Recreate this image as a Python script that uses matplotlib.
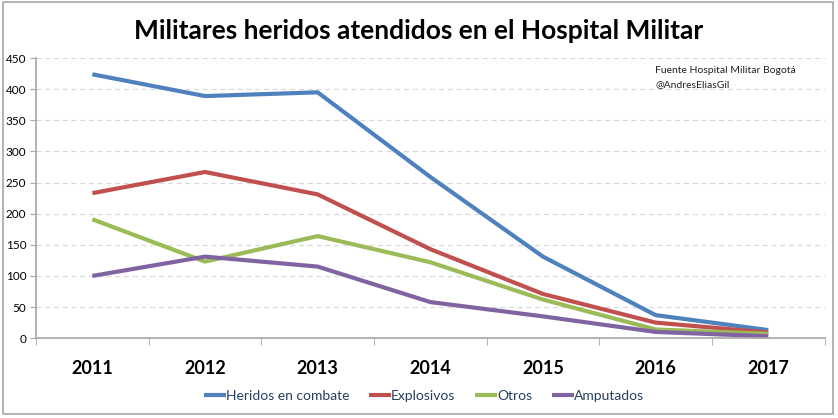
import matplotlib.pyplot as plt
from matplotlib.patches import Rectangle

years = ['2011', '2012', '2013', '2014', '2015', '2016', '2017']
heridos = [424, 389, 395, 259, 131, 37, 13]
explosivos = [233, 267, 231, 143, 71, 25, 9]
otros = [191, 123, 164, 122, 62, 14, 7]
amputados = [100, 131, 115, 58, 35, 10, 3]

series = [
    ('Heridos en combate', heridos, '#4F81BD'),
    ('Explosivos', explosivos, '#C0504D'),
    ('Otros', otros, '#9BBB59'),
    ('Amputados', amputados, '#8064A2'),
]

plt.rcParams['font.family'] = ['Lato', 'DejaVu Sans']

fig = plt.figure(figsize=(8.38, 4.18), dpi=100)
ax = fig.add_axes([0.043, 0.191, 0.941, 0.670])

# frame around the whole chart
fig.patches.append(Rectangle((0.003, 0.01), 0.991, 0.985, transform=fig.transFigure,
                             fill=False, edgecolor='#A6A6A6', linewidth=1.2))

x = list(range(len(years)))
for name, vals, col in series:
    ax.plot(x, vals, color=col, linewidth=3, label=name, solid_capstyle='butt')

ax.set_xlim(-0.5, len(years) - 0.5)
ax.set_ylim(0, 450)
ax.set_yticks(range(0, 451, 50))
ax.yaxis.grid(True, linestyle=(0, (4, 3)), color='#D9D9D9', linewidth=0.9)
ax.set_axisbelow(True)

ax.set_xticks(x)
ax.set_xticklabels(years, fontsize=13, fontweight='bold')
ax.set_xticks([i - 0.5 for i in range(len(years) + 1)], minor=True)
ax.tick_params(axis='x', which='major', length=0, pad=16)
ax.tick_params(axis='x', which='minor', length=5, color='#A6A6A6', direction='out')
ax.tick_params(axis='y', length=4, color='#A6A6A6', labelsize=8.5, pad=3)

for s in ['top', 'right']:
    ax.spines[s].set_visible(False)
for s in ['left', 'bottom']:
    ax.spines[s].set_color('#A6A6A6')
    ax.spines[s].set_linewidth(1.2)

fig.suptitle('Militares heridos atendidos en el Hospital Militar', x=0.5, y=0.955,
             fontsize=19, fontweight='bold')

ax.text(0.785, 0.972, 'Fuente Hospital Militar Bogotá\n@AndresEliasGil',
        transform=ax.transAxes, fontsize=7.5, va='top', ha='left',
        linespacing=1.7, color='#222222')

leg = fig.legend(loc='center', bbox_to_anchor=(0.506, 0.052), ncol=4, frameon=False,
                 fontsize=10, handlelength=1.6, handletextpad=0.0, columnspacing=1.4)
for t in leg.get_texts():
    t.set_color('#243F60')

fig.savefig('out.png', dpi=100)
